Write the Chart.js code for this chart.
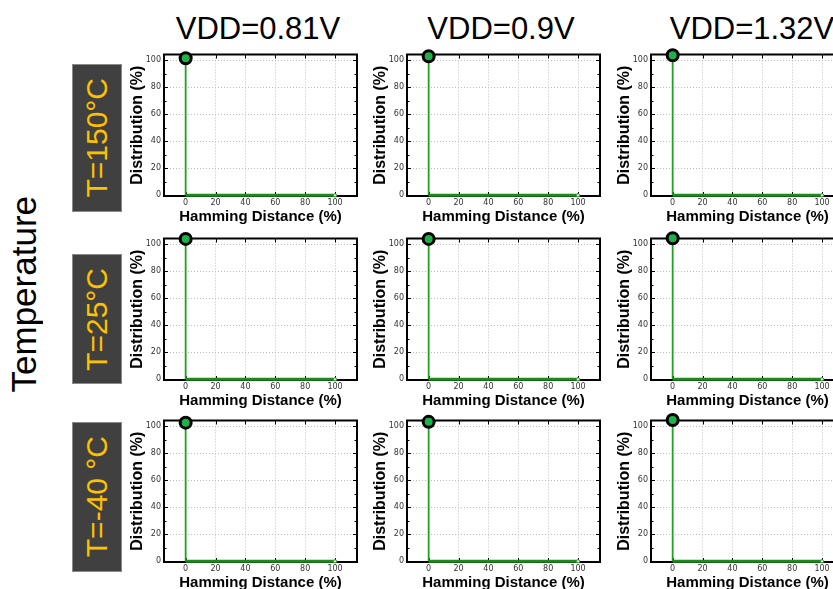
<!DOCTYPE html>
<html>
<head>
<meta charset="utf-8">
<script src="https://cdn.jsdelivr.net/npm/chart.js@4.4.0/dist/chart.umd.min.js"></script>
<style>
  html, body { margin: 0; padding: 0; background: #fff; }
  body { width: 833px; height: 589px; overflow: hidden; position: relative; font-family: 'Liberation Sans', Arial, sans-serif; }
  .col-title { position: absolute; top: 13px; width: 240px; margin-left: -120px; text-align: center; font-size: 31px; line-height: 31px; color: #000; white-space: nowrap; }
  .temp-box { position: absolute; left: 72px; width: 48px; background: #404040; border: 1px solid #8a8a8a; display: flex; align-items: center; justify-content: center; }
  .temp-box span { writing-mode: vertical-rl; transform: rotate(180deg); color: #ffc000; font-size: 30px; line-height: 30px; white-space: nowrap; }
  #temp-axis { position: absolute; left: 6px; top: 194px; width: 34px; height: 200px; display: flex; align-items: center; justify-content: center; }
  #temp-axis span { writing-mode: vertical-rl; transform: rotate(180deg); font-size: 35px; line-height: 35px; white-space: nowrap; color: #000; }
  .panel { position: absolute; }
</style>
</head>
<body>
<div id="temp-axis"><span>Temperature</span></div>
<script>
/* Hamming distance distribution, 3x3 grid (temperature x supply voltage) */

const vddLabels = ['VDD=0.81V', 'VDD=0.9V', 'VDD=1.32V'];
const tempLabels = ['T=150°C', 'T=25°C', 'T=-40 °C'];

// peak height (%) at HD = 0, one value per VDD column
const peakT150 = [101.5, 103.0, 103.7];
const peakT25 = [104.0, 104.0, 104.5];
const peakTm40 = [102.7, 103.3, 104.7];
const peaks = [peakT150, peakT25, peakTm40];

// hamming distance points of each curve and the tail value
const hdPoints = [0, 0, 100];
const tailValue = 0;

const xTicks = [0, 20, 40, 60, 80, 100];
const yTicks = [0, 20, 40, 60, 80, 100];
const yMinorTicks = [10, 30, 50, 70, 90];

// layout (px)
const colPlotLeft = [164, 407, 651];
const rowPlotTop = [54, 238, 420];
const boxTop = [64, 254, 422];
const boxHeight = [146, 128, 148];
const titleCenter = [258, 501, 752];

const PW = 251, PH = 186;

// column titles
vddLabels.forEach((t, i) => {
  const d = document.createElement('div');
  d.className = 'col-title';
  d.style.left = titleCenter[i] + 'px';
  d.textContent = t;
  document.body.appendChild(d);
});

// row labels
tempLabels.forEach((t, i) => {
  const d = document.createElement('div');
  d.className = 'temp-box';
  d.style.top = boxTop[i] + 'px';
  d.style.height = boxHeight[i] + 'px';
  const s = document.createElement('span');
  s.textContent = t;
  d.appendChild(s);
  document.body.appendChild(d);
});

// frame + inward tick marks
const framePlugin = {
  id: 'frame',
  beforeDatasetsDraw(chart) {
    const { ctx, chartArea: a, scales: { x, y } } = chart;
    ctx.save();
    ctx.strokeStyle = '#000';
    ctx.lineWidth = 1;
    ctx.beginPath();
    xTicks.forEach(v => {
      const px = Math.round(x.getPixelForValue(v)) + 0.5;
      ctx.moveTo(px, a.bottom); ctx.lineTo(px, a.bottom - 4);
      ctx.moveTo(px, a.top); ctx.lineTo(px, a.top + 4);
    });
    yTicks.forEach(v => {
      const py = Math.round(y.getPixelForValue(v)) + 0.5;
      ctx.moveTo(a.left, py); ctx.lineTo(a.left + 4, py);
      ctx.moveTo(a.right, py); ctx.lineTo(a.right - 4, py);
    });
    yMinorTicks.forEach(v => {
      const py = Math.round(y.getPixelForValue(v)) + 0.5;
      ctx.moveTo(a.left, py); ctx.lineTo(a.left + 2.5, py);
      ctx.moveTo(a.right, py); ctx.lineTo(a.right - 2.5, py);
    });
    ctx.stroke();
    ctx.lineWidth = 2;
    ctx.strokeRect(a.left, a.top, a.right - a.left, a.bottom - a.top);
    ctx.restore();
  }
};

function makePanel(row, col) {
  const canvas = document.createElement('canvas');
  canvas.width = PW;
  canvas.height = PH;
  canvas.className = 'panel';
  canvas.style.left = (colPlotLeft[col] - 44) + 'px';
  canvas.style.top = (rowPlotTop[row] - 8) + 'px';
  document.body.appendChild(canvas);

  const yVals = [peaks[row][col], tailValue, tailValue];
  const data = hdPoints.map((hd, i) => ({ x: hd, y: yVals[i] }));

  new Chart(canvas.getContext('2d'), {
    type: 'line',
    data: {
      datasets: [{
        data,
        borderColor: '#22a022',
        borderWidth: 1.8,
        tension: 0,
        clip: false,
        segment: {
          borderWidth: c => c.p0DataIndex === 1 ? 3 : 1.8,
          borderColor: c => c.p0DataIndex === 1 ? '#1c8a1c' : '#22a022'
        },
        pointRadius: [5.5, 0, 1.6],
        pointBackgroundColor: ['#1fb04b', '#ffffff', '#ffffff'],
        pointBorderColor: ['#000000', '#000000', '#2b9a2b'],
        pointBorderWidth: [3, 0, 1]
      }]
    },
    options: {
      responsive: false,
      animation: false,
      devicePixelRatio: 1,
      events: [],
      layout: { padding: { left: 0, top: 8, right: 14, bottom: 0 } },
      plugins: { legend: { display: false }, tooltip: { enabled: false } },
      scales: {
        x: {
          type: 'linear',
          min: -14.5,
          max: 114.7,
          afterBuildTicks: s => { s.ticks = xTicks.map(v => ({ value: v })); },
          afterFit: s => { s.height = 36; },
          grid: { color: '#bdbdbd', lineWidth: 1, drawTicks: false },
          border: { display: false, dash: [1, 2] },
          ticks: {
            padding: 2,
            autoSkip: false,
            maxRotation: 0,
            color: '#333',
            font: { family: 'DejaVu Sans', size: 8 }
          },
          title: {
            display: true,
            text: 'Hamming Distance (%)',
            color: '#000',
            font: { family: 'Liberation Sans', size: 15, weight: 'bold' },
            padding: { top: 0, bottom: 6 }
          }
        },
        y: {
          min: -0.5,
          max: 104.3,
          afterBuildTicks: s => { s.ticks = yTicks.map(v => ({ value: v })); },
          afterFit: s => { s.width = 44; },
          grid: { color: '#bdbdbd', lineWidth: 1, drawTicks: false },
          border: { display: false, dash: [1, 2] },
          ticks: {
            padding: 3,
            color: '#333',
            font: { family: 'DejaVu Sans', size: 8 }
          },
          title: {
            display: true,
            text: 'Distribution (%)',
            color: '#000',
            font: { family: 'Liberation Sans', size: 16, weight: 'bold' },
            padding: { top: 8, bottom: 0 }
          }
        }
      }
    },
    plugins: [framePlugin]
  });
}

for (let r = 0; r < 3; r++) {
  for (let c = 0; c < 3; c++) makePanel(r, c);
}
</script>
</body>
</html>
